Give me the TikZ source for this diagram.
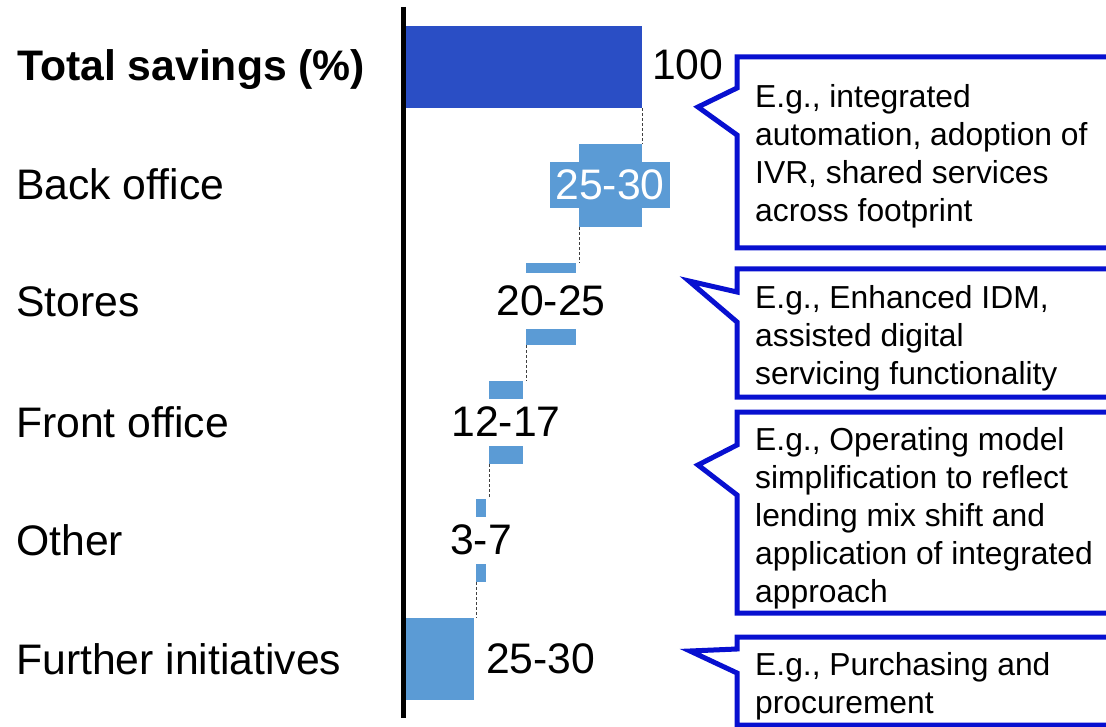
\documentclass[tikz,border=0pt]{standalone}
\usepackage{fontspec}
\setmainfont{Liberation Sans}
\usetikzlibrary{positioning}
\definecolor{totalclr}{RGB}{42,78,197}
\definecolor{stepclr}{RGB}{91,155,213}
\definecolor{calloutclr}{RGB}{8,16,208}

\tikzset{
  bigfont/.style={font=\fontsize{42.7}{50}\selectfont},
  rowlabel/.style={bigfont, anchor=base west, inner sep=0},
  vallabel/.style={bigfont, inner sep=0},
  bar/.style={fill=stepclr, draw=none, inner sep=0, anchor=north west},
  gapbox/.style={vallabel, fill=white, minimum height=47},
  link/.style={densely dashed, black!75, line width=1},
  callout/.style={draw=calloutclr, line width=5, fill=white, line join=miter},
  calltext/.style={anchor=north west, inner sep=0, align=left, font=\fontsize{31.8}{38}\selectfont},
}

\begin{document}
\begin{tikzpicture}[x=1pt, y=-1pt]
\useasboundingbox (0,0) rectangle (1106,727);
\clip (0,0) rectangle (1106,727);

% row labels
\node[rowlabel, font=\fontsize{42.7}{50}\selectfont\bfseries] (totallbl) at (17,81) {Total savings (\%)};
\node[rowlabel] (backlbl) at (16,200) {Back office};
\node[rowlabel] (storeslbl) at (16,317) {Stores};
\node[rowlabel] (frontlbl) at (16,437) {Front office};
\node[rowlabel] (otherlbl) at (16,555) {Other};
\node[rowlabel] (furtherlbl) at (16,674) {Further initiatives};

% bars
\node[bar, fill=totalclr, minimum width=237, minimum height=82] (total) at (405,26) {};
\node[bar, minimum width=63, minimum height=83] (back) at (579,144) {};
\node[bar, minimum width=50, minimum height=82] (stores) at (526,263) {};
\node[bar, minimum width=34, minimum height=83] (front) at (489,381) {};
\node[bar, minimum width=10, minimum height=83] (other) at (476,499) {};
\node[bar, minimum width=69, minimum height=82] (further) at (405,618) {};

% axis
\coordinate (axtop) at (403,7);
\coordinate (axbot) at (403,718);
\draw[line width=5] (axtop) -- (axbot);

% value labels
\node[vallabel, anchor=base west] (totalval) at (652,80) {100};
\node[vallabel, fill=stepclr, text=white, minimum width=120, minimum height=46] (backval) at (610,185) {25-30};
\node[gapbox, minimum height=56] (storesval) at (551,301) {20-25};
\node[gapbox] (frontval) at (506,422) {12-17};
\node[gapbox] (otherval) at (481,540) {3-7};
\node[vallabel, anchor=base west] (furtherval) at (486,673) {25-30};

% dashed links
\draw[link] (total.south east) -- (back.north east);
\draw[link] (back.south west) -- (back.south west |- stores.north);
\draw[link] (stores.south west) -- (stores.south west |- front.north);
\draw[link] (front.south west) -- (front.south west |- other.north);
\draw[link] (other.south west) -- (other.south west |- further.north);

% callouts
\draw[callout] (1120,57) -- (737,57) -- (737,88) -- (698,107) -- (737,135)
  -- (737,248) -- (1120,248) -- cycle;
\draw[callout] (1120,269) -- (737,269) -- (737,292) -- (689,281) -- (737,322)
  -- (737,397) -- (1120,397) -- cycle;
\draw[callout] (1120,412) -- (737,412) -- (737,445) -- (698,465) -- (737,495)
  -- (737,613) -- (1120,613) -- cycle;
\draw[callout] (1120,637) -- (737,637) -- (737,649) -- (690,651) -- (737,673)
  -- (737,725) -- (1120,725) -- cycle;

\node[calltext] (backnote) at (755,84) {E.g., integrated\\automation, adoption of\\IVR, shared services\\across footprint};
\node[calltext] (storesnote) at (755,285) {E.g., Enhanced IDM,\\assisted digital\\servicing functionality};
\node[calltext] (frontnote) at (755,427) {E.g., Operating model\\simplification to reflect\\lending mix shift and\\application of integrated\\approach};
\node[calltext] (furthernote) at (755,652) {E.g., Purchasing and\\procurement};
\end{tikzpicture}
\end{document}
